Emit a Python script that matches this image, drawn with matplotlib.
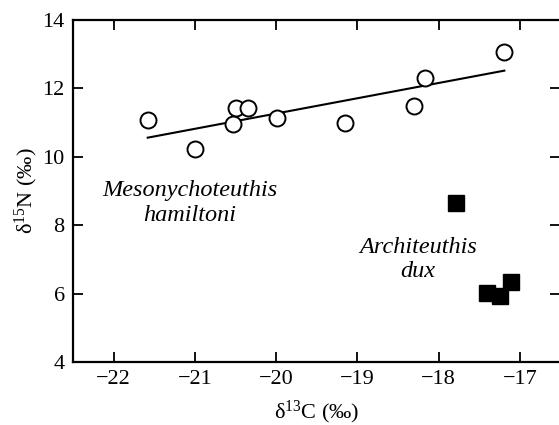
import matplotlib
matplotlib.use("Agg")
import matplotlib.pyplot as plt
import numpy as np

plt.rcParams['font.family'] = ['Liberation Serif', 'DejaVu Serif']
plt.rcParams['mathtext.fontset'] = 'custom'
plt.rcParams['mathtext.rm'] = 'Liberation Serif'
plt.rcParams['mathtext.it'] = 'Liberation Serif:italic'

# Mesonychoteuthis hamiltoni (open circles)
meso_c13 = [-21.58, -21.00, -20.53, -20.49, -20.35, -19.99, -19.15, -18.30, -18.17, -17.19]
meso_n15 = [11.08, 10.23, 10.96, 11.42, 11.42, 11.13, 11.00, 11.49, 12.30, 13.07]

# Architeuthis dux (filled squares)
arch_c13 = [-17.78, -17.40, -17.24, -17.11]
arch_n15 = [8.64, 6.03, 5.93, 6.35]

xticks = [-22, -21, -20, -19, -18, -17]
yticks = [4, 6, 8, 10, 12, 14]

fig = plt.figure(figsize=(5.59, 4.25), dpi=100)
ax = fig.add_axes([73/559, 1-362/425, (560.4-73)/559, (362-20)/425])

ax.plot(meso_c13, meso_n15, linestyle='none', marker='o', markersize=11.5,
        markerfacecolor='white', markeredgecolor='black', markeredgewidth=1.4, zorder=3)
ax.plot(arch_c13, arch_n15, linestyle='none', marker='s', markersize=11,
        markerfacecolor='black', markeredgecolor='black', zorder=3)

# least-squares fit line for Mesonychoteuthis
mx = np.array(meso_c13)
my = np.array(meso_n15)
slope, intercept = np.polyfit(mx, my, 1)
xl = np.array([mx.min(), mx.max()])
ax.plot(xl, slope*xl + intercept, color='black', linewidth=1.5, zorder=2)

ax.text(-21.06, 8.65, 'Mesonychoteuthis\nhamiltoni', style='italic', fontsize=17.5,
        ha='center', va='center', linespacing=1.2)
ax.text(-18.255, 7.0, 'Architeuthis\ndux', style='italic', fontsize=17.5,
        ha='center', va='center', linespacing=1.2)

ax.set_xlim(-22.5, -16.5)
ax.set_ylim(4, 14)
ax.set_xticks(xticks)
ax.set_yticks(yticks)
ax.set_xticklabels(['\u2212%d' % abs(t) for t in xticks])
ax.tick_params(direction='in', length=7, width=1.3, labelsize=16, pad=6,
               top=True, right=True)
for s in ax.spines.values():
    s.set_linewidth(1.6)

ax.set_xlabel('δ$^{\\mathregular{13}}$C (‰)', fontsize=16, labelpad=6.5)
ax.set_ylabel('δ$^{\\mathregular{15}}$N (‰)', fontsize=16, labelpad=2)

fig.savefig('out.png', dpi=100)
